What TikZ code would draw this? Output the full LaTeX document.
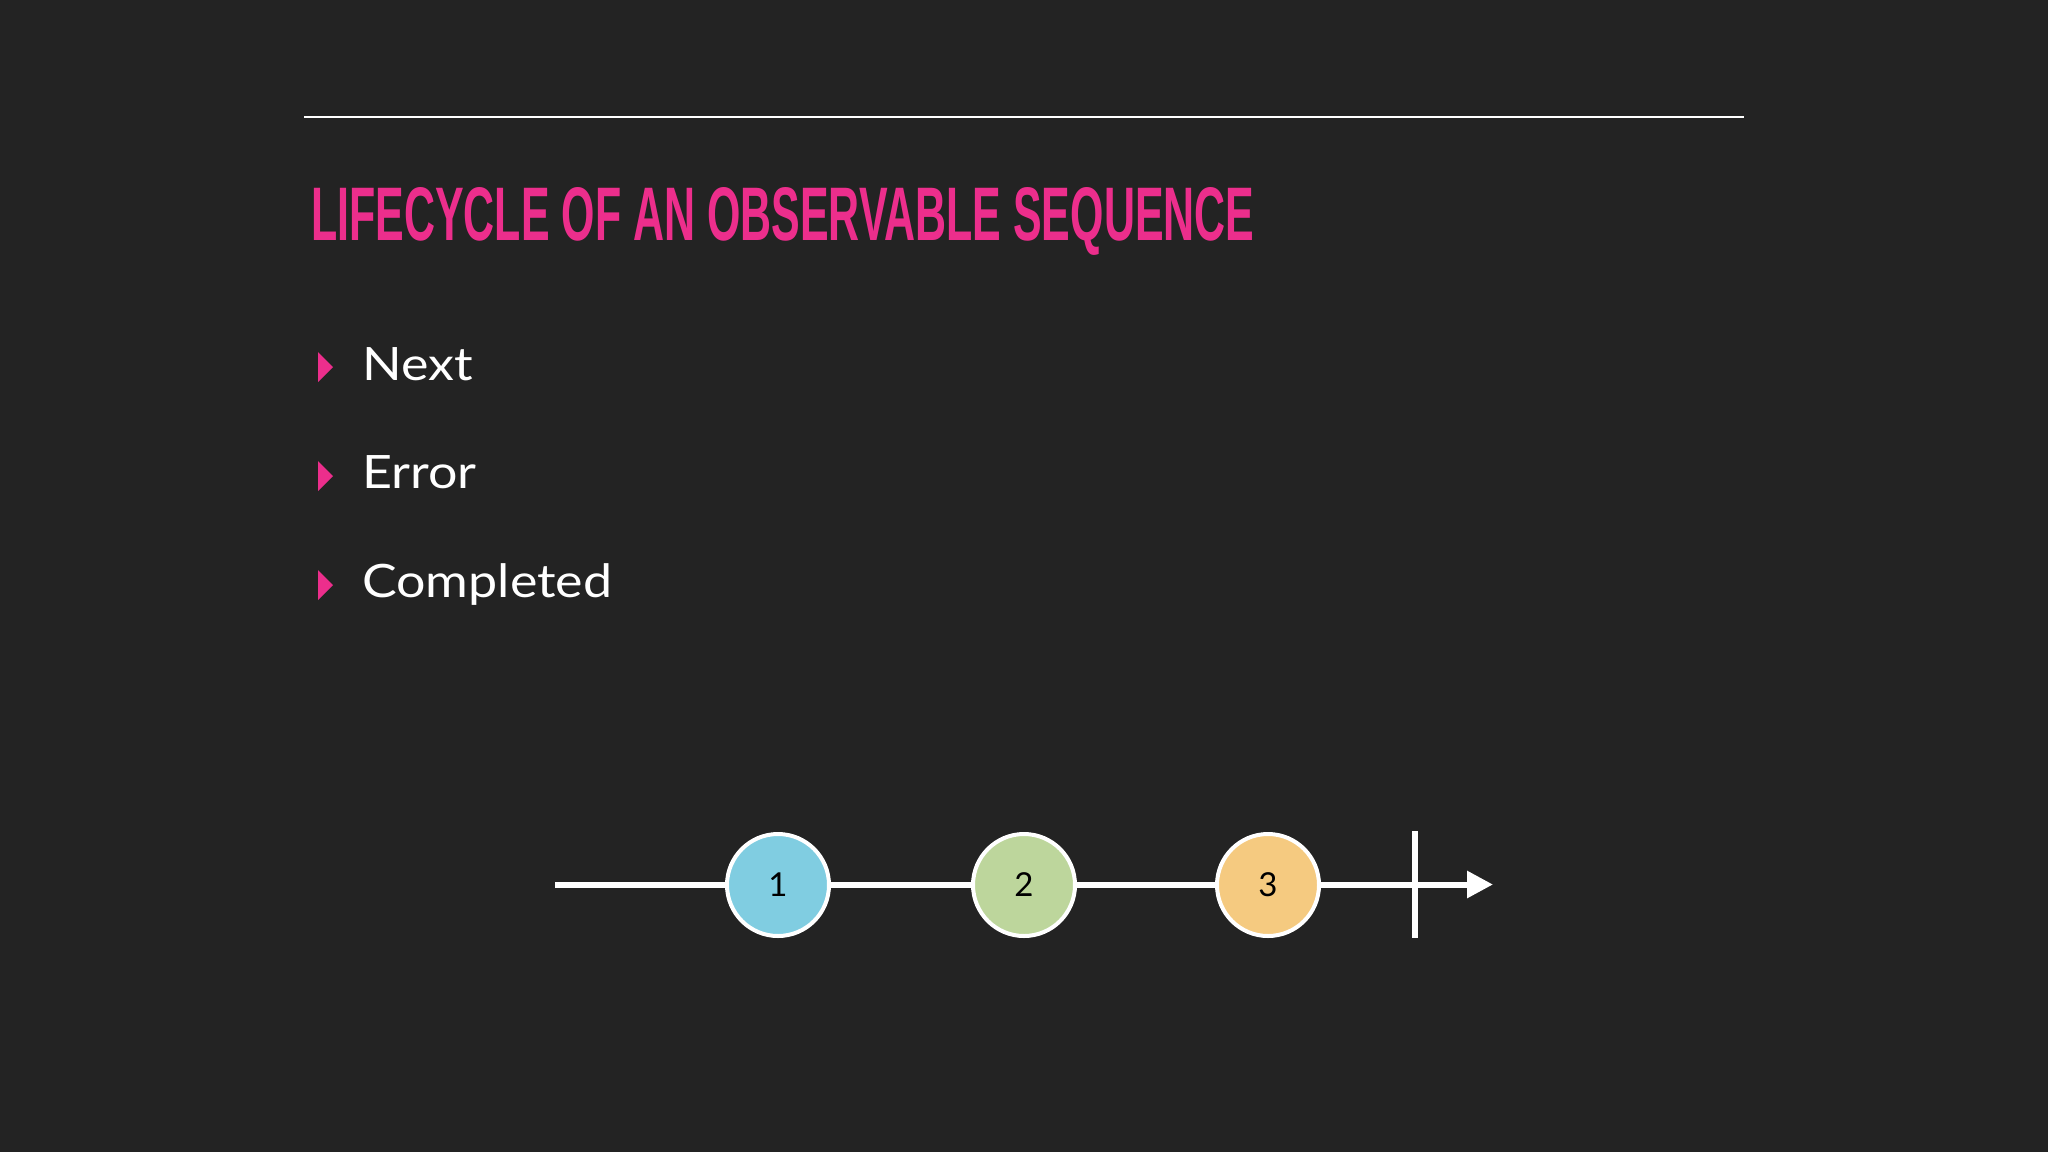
\documentclass[tikz,border=0pt]{standalone}
\usepackage{fontspec}
\setmainfont{Lato}
\newfontfamily\bulletfont[FakeStretch=1.13]{Lato}
\newfontfamily\titlefont{Liberation Sans}
\usetikzlibrary{arrows.meta}
\definecolor{bg}{HTML}{232323}
\definecolor{pinkc}{HTML}{EC2E8C}
\definecolor{bluec}{HTML}{80CDE1}
\definecolor{greenc}{HTML}{BDD69C}
\definecolor{orangec}{HTML}{F5CA80}
\tikzset{
  bullettext/.style={anchor=base west, text=white, font=\bulletfont\fontsize{46}{50}\selectfont, inner sep=0pt},
  event/.style={circle, draw=white, line width=4pt, minimum size=102pt, inner sep=0pt, text=black, font=\fontsize{33}{36}\selectfont},
  timeline/.style={white, line width=6pt},
}
\begin{document}
\begin{tikzpicture}[x=1pt,y=-1pt]
\fill[bg] (0,0) rectangle (2048,1152);
\useasboundingbox (0,0) rectangle (2048,1152);
% top rule
\coordinate (r1) at (304,117);
\coordinate (r2) at (1744,117);
\draw[white, line width=1.8pt] (r1) -- (r2);
% title
\node[anchor=base west, inner sep=0pt, text=pinkc] (title) at (311,240)
  {\resizebox{943pt}{53pt}{\titlefont\bfseries LIFECYCLE OF AN OBSERVABLE SEQUENCE}};
% bullets
\fill[pinkc] (318,352) -- (333,367) -- (318,382) -- cycle;
\fill[pinkc] (318,461) -- (333,476) -- (318,491) -- cycle;
\fill[pinkc] (318,570) -- (333,585) -- (318,600) -- cycle;
\node[bullettext] (next) at (362,380) {Next};
\node[bullettext] (error) at (362,488) {Error};
\node[bullettext] (completed) at (362,597) {Completed};
% timeline
\coordinate (tstart) at (555,884.5);
\coordinate (tend) at (1493,884.5);
\draw[timeline, -{Triangle[length=26pt,width=26pt]}, shorten >=0pt] (tstart) -- (tend);
\coordinate (bartop) at (1415,831);
\coordinate (barbot) at (1415,938);
\draw[timeline] (bartop) -- (barbot);
\node[event, fill=bluec] (c1) at (778,885) {1};
\node[event, fill=greenc] (c2) at (1024,885) {2};
\node[event, fill=orangec] (c3) at (1268,885) {3};
\end{tikzpicture}
\end{document}
